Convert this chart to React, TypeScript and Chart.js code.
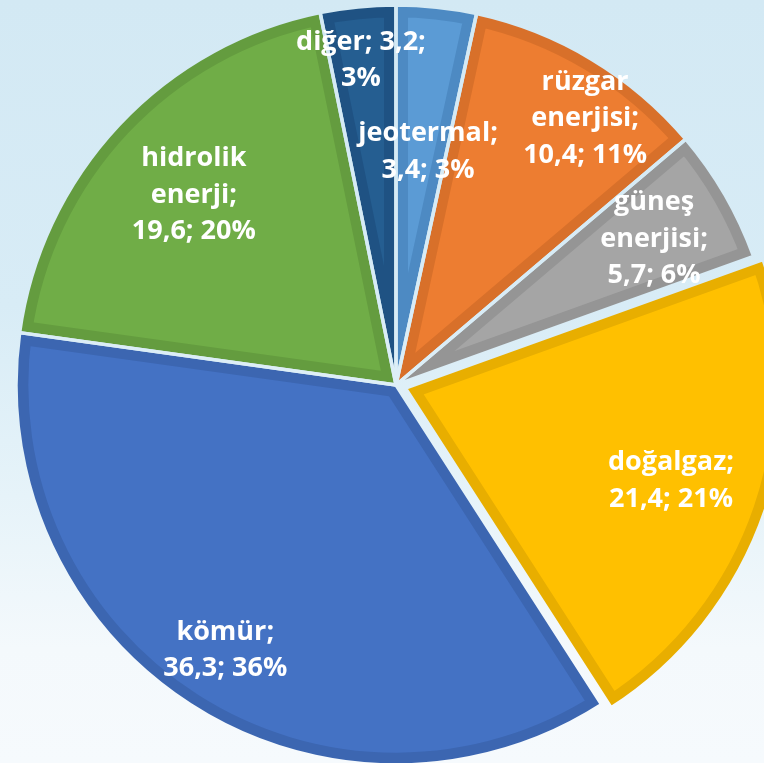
import { useEffect, useRef } from 'react';
import Chart from 'chart.js/auto';

const categories = ['jeotermal', 'rüzgar enerjisi', 'güneş enerjisi', 'doğalgaz', 'kömür', 'hidrolik enerji', 'diğer'];
const values = [3.4, 10.4, 5.7, 21.4, 36.3, 19.6, 3.2];
const percents = [3, 11, 6, 21, 36, 20, 3];
const fillColors = ['#5B9BD5', '#ED7D31', '#A5A5A5', '#FFC000', '#4472C4', '#70AD47', '#255E91'];
const bandColors = ['#4d8ac3', '#d8702a', '#959595', '#e8ae00', '#3c66b1', '#649c3f', '#1f5283'];
const explode = [0, 0, 0, 40, 0, 0, 0];
const joinNameAndValue = [false, false, false, false, false, false, true];

// label placement (fraction of radius, angular nudge in degrees)
const labelRadius = [0.62, 0.86, 0.78, 0.74, 0.83, 0.73, 0.86];
const labelNudgeDeg = [1.7, 4.4, 0.6, 0.5, 0.2, 0, -0.4];

const GAP = 3.5;
const FONT = 'bold 27px "Open Sans"';
const LINE_H = 36.5;

function labelLines(i: number): string[] {
  const v = values[i].toFixed(1).replace('.', ',');
  const p = `${percents[i]}%`;
  const name = categories[i];
  if (joinNameAndValue[i]) return [`${name}; ${v};`, p];
  const words = name.split(' ');
  words[words.length - 1] += ';';
  return [...words, `${v}; ${p}`];
}

const gapPlugin = {
  id: 'gapPlugin',
  afterDatasetsDraw(chart: any) {
    const meta = chart.getDatasetMeta(0);
    const ctx = chart.ctx as CanvasRenderingContext2D;
    ctx.save();
    ctx.globalCompositeOperation = 'destination-out';
    ctx.lineWidth = GAP;
    ctx.lineJoin = 'round';
    ctx.strokeStyle = '#000';
    meta.data.forEach((arc: any, i: number) => {
      const { x, y, startAngle, endAngle, outerRadius } = arc.getProps(['x', 'y', 'startAngle', 'endAngle', 'outerRadius'], true);
      const off = (explode[i] || 0) / 4;
      const mid = (startAngle + endAngle) / 2;
      const cx = x + Math.cos(mid) * off;
      const cy = y + Math.sin(mid) * off;
      ctx.beginPath();
      ctx.moveTo(cx, cy);
      ctx.arc(cx, cy, outerRadius, startAngle, endAngle);
      ctx.closePath();
      ctx.stroke();
    });
    ctx.restore();
  },
};

const labelPlugin = {
  id: 'labelPlugin',
  afterDraw(chart: any) {
    const meta = chart.getDatasetMeta(0);
    const ctx = chart.ctx as CanvasRenderingContext2D;
    ctx.save();
    ctx.font = FONT;
    ctx.fillStyle = '#ffffff';
    ctx.textAlign = 'center';
    ctx.textBaseline = 'middle';
    meta.data.forEach((arc: any, i: number) => {
      const { x, y, startAngle, endAngle, outerRadius } = arc.getProps(['x', 'y', 'startAngle', 'endAngle', 'outerRadius'], true);
      const off = (explode[i] || 0) / 4;
      const mid = (startAngle + endAngle) / 2;
      const cx = x + Math.cos(mid) * off;
      const cy = y + Math.sin(mid) * off;
      const a = mid + (labelNudgeDeg[i] * Math.PI) / 180;
      const r = outerRadius * labelRadius[i];
      const px = cx + Math.cos(a) * r;
      const py = cy + Math.sin(a) * r;
      const lines = labelLines(i);
      const top = py - ((lines.length - 1) * LINE_H) / 2;
      lines.forEach((t, k) => ctx.fillText(t, px, top + k * LINE_H));
    });
    ctx.restore();
  },
};

export default function App() {
  const ref = useRef<HTMLCanvasElement>(null);
  useEffect(() => {
    const chart = new Chart(ref.current as HTMLCanvasElement, {
      type: 'pie',
      data: {
        labels: categories,
        datasets: [
          {
            data: values,
            backgroundColor: fillColors,
            borderColor: bandColors,
            borderWidth: 12,
            borderAlign: 'inner',
            offset: explode,
            hoverOffset: 0,
            radius: 380,
            clip: false,
          } as any,
        ],
      },
      options: {
        responsive: false,
        animation: false,
        events: [],
        layout: { padding: { left: 28, right: 0, top: 7, bottom: 0 } },
        plugins: { legend: { display: false }, tooltip: { enabled: false } },
      } as any,
      plugins: [gapPlugin, labelPlugin],
    });
    return () => chart.destroy();
  }, []);
  return (
    <div
      style={{
        position: 'fixed',
        left: 0,
        top: 0,
        width: 764,
        height: 763,
        overflow: 'hidden',
        background: 'linear-gradient(180deg, #d3e9f4 0%, #d8ecf6 40%, #e6f3f9 65%, #f4f9fc 85%, #f6fafd 100%)',
      }}
    >
      <canvas ref={ref} width={764} height={763} style={{ display: 'block' }} />
    </div>
  );
}
